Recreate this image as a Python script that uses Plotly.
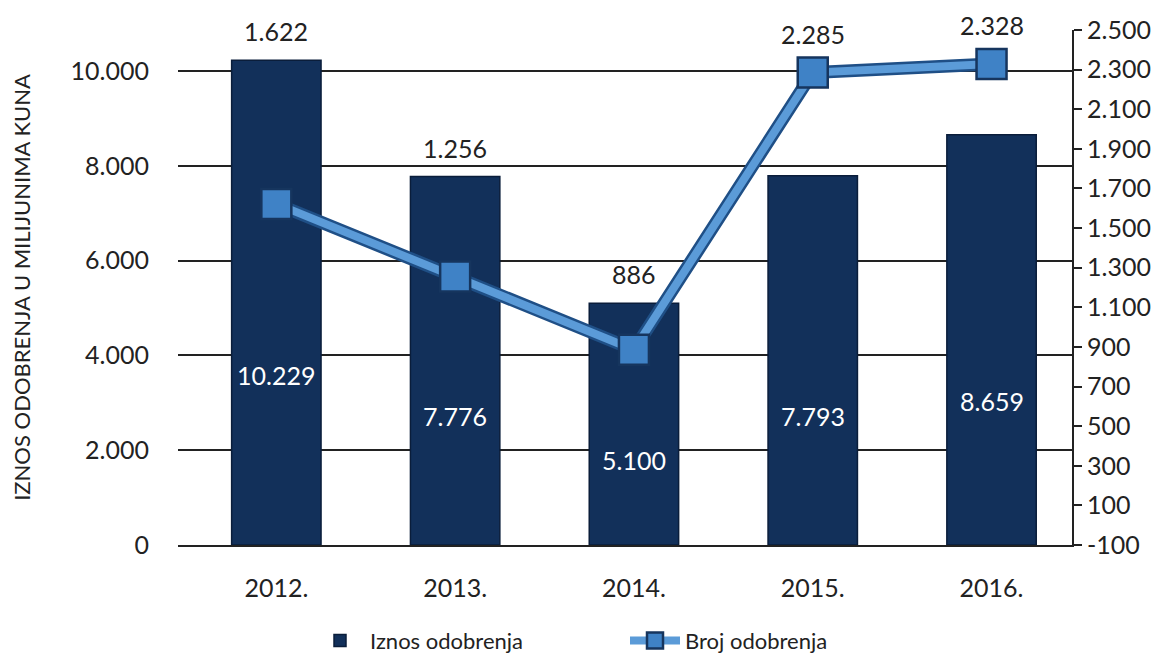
import plotly.graph_objects as go

# podaci
godine = ['2012.', '2013.', '2014.', '2015.', '2016.']
iznos = [10229, 7776, 5100, 7793, 8659]      # mil. kuna (lijeva os)
broj = [1622, 1256, 886, 2285, 2328]          # broj odobrenja (desna os)

y1_ticks = [0, 2000, 4000, 6000, 8000, 10000]
y2_ticks = list(range(-100, 2501, 200))

y1_max = 10870
y2_min, y2_max = -100, 2500


def fmt(v):
    return f'{v:,}'.replace(',', '.')


fig = go.Figure()

fig.add_trace(go.Bar(
    x=godine, y=iznos, name='Iznos odobrenja',
    marker=dict(color='#12305a', line=dict(color='#0a1d3a', width=1.5)),
    hoverinfo='y'
))

# obrub linije (tamniji)
fig.add_trace(go.Scatter(
    x=godine, y=broj, yaxis='y2', mode='lines',
    line=dict(color='#1f4f86', width=13),
    showlegend=False, hoverinfo='skip'
))
fig.add_trace(go.Scatter(
    x=godine, y=broj, yaxis='y2', mode='lines+markers',
    name='Broj odobrenja',
    line=dict(color='#5b9bd8', width=8),
    marker=dict(symbol='square', size=30, color='#3f82c6',
                line=dict(color='#16355e', width=2.5))
))

# vrijednosti iznosa unutar stupaca (x kao indeks kategorije)
for i, v in enumerate(iznos):
    fig.add_annotation(x=i, y=v * 0.35, text=fmt(v), showarrow=False,
                       font=dict(color='white', size=25))

# vrijednosti broja iznad stupca ili markera
for i, (b, v) in enumerate(zip(broj, iznos)):
    b_eq = (b - y2_min) / (y2_max - y2_min) * y1_max
    top = max(v, b_eq)
    fig.add_annotation(x=i, y=top, text=fmt(b), showarrow=False,
                       yanchor='bottom', yshift=12 if v >= b_eq else 22,
                       font=dict(color='#222', size=25))

# stranica ima 8 px margine tijela, pa su margine umanjene za to
fig.update_layout(
    width=1176, height=655,
    margin=dict(l=170, r=112, t=22, b=118, autoexpand=False),
    paper_bgcolor='white', plot_bgcolor='white',
    font=dict(family='Lato, Open Sans, sans-serif', color='#222', size=24),
    bargap=0.5,
    showlegend=True,
    legend=dict(orientation='h', x=0.5, xanchor='center', y=-0.145,
                yanchor='top', font=dict(size=22), itemwidth=50,
                entrywidth=250, traceorder='normal'),
    xaxis=dict(type='category', range=[-0.55, 4.45], automargin=False,
               showline=True, linecolor='#222', linewidth=2,
               ticks='', tickfont=dict(size=25), ticklabelstandoff=20),
    yaxis=dict(range=[0, y1_max], tickvals=y1_ticks, automargin=False,
               ticktext=[fmt(t) for t in y1_ticks],
               showgrid=True, gridcolor='#222', gridwidth=2,
               zeroline=False, showline=False, ticklabelstandoff=28,
               tickfont=dict(size=25),
               title=dict(text='IZNOS ODOBRENJA U MILIJUNIMA KUNA',
                          font=dict(size=22), standoff=36)),
    yaxis2=dict(range=[y2_min, y2_max], overlaying='y', side='right',
                automargin=False,
                tickvals=y2_ticks, ticktext=[fmt(t) for t in y2_ticks],
                showgrid=False,
                zeroline=False, showline=True, linecolor='#222', linewidth=2,
                ticks='outside', ticklen=8, tickcolor='#222', tickwidth=2,
                tickfont=dict(size=25))
)

fig.write_html('out.html')
